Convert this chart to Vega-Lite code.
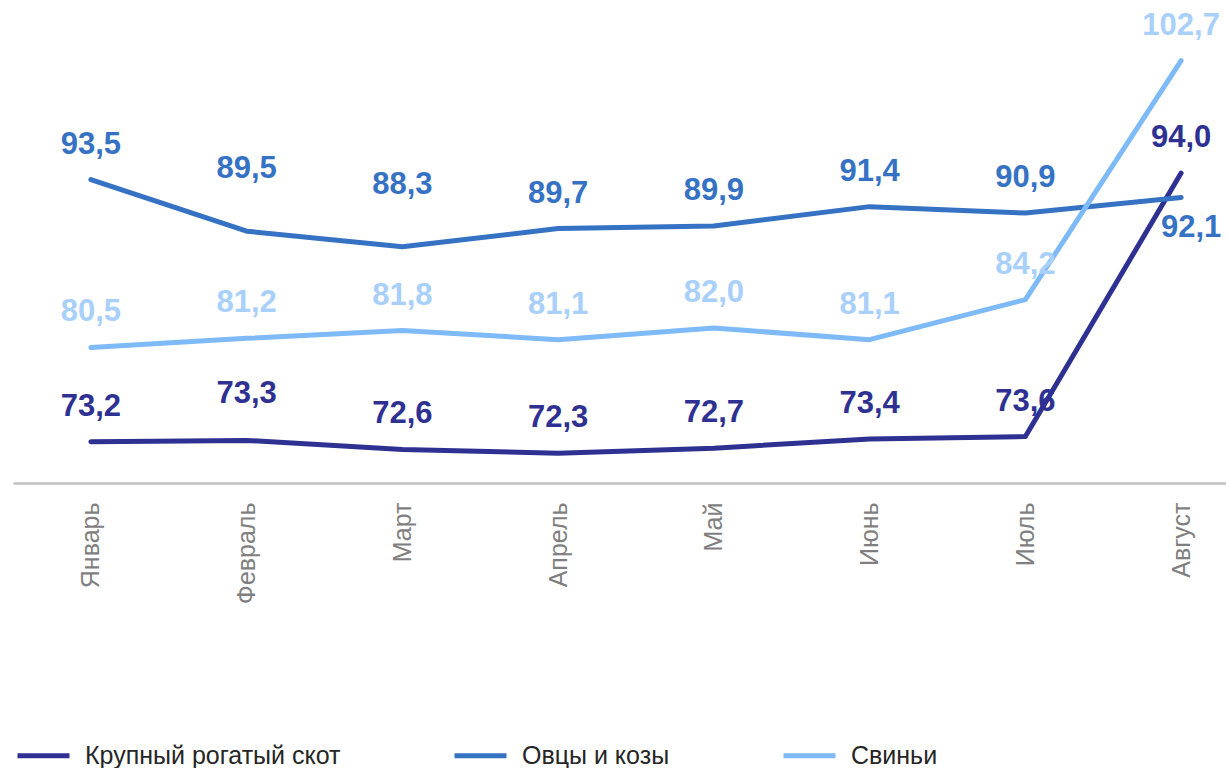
{
  "$schema": "https://vega.github.io/schema/vega-lite/v6.json",
  "autosize": {"type": "none"},
  "width": 1213,
  "height": 452,
  "padding": {"left": 13, "top": 31, "right": 0, "bottom": 285},
  "background": "white",
  "config": {
    "view": {"stroke": null},
    "font": "Liberation Sans",
    "locale": {"number": {"decimal": ",", "thousands": " ", "grouping": [3], "currency": ["", ""]}}
  },
  "data": {
    "values": [
      {"month": "Январь", "series": "Крупный рогатый скот", "value": 73.2},
      {"month": "Февраль", "series": "Крупный рогатый скот", "value": 73.3},
      {"month": "Март", "series": "Крупный рогатый скот", "value": 72.6},
      {"month": "Апрель", "series": "Крупный рогатый скот", "value": 72.3},
      {"month": "Май", "series": "Крупный рогатый скот", "value": 72.7},
      {"month": "Июнь", "series": "Крупный рогатый скот", "value": 73.4},
      {"month": "Июль", "series": "Крупный рогатый скот", "value": 73.6},
      {"month": "Август", "series": "Крупный рогатый скот", "value": 94.0},
      {"month": "Январь", "series": "Овцы и козы", "value": 93.5},
      {"month": "Февраль", "series": "Овцы и козы", "value": 89.5},
      {"month": "Март", "series": "Овцы и козы", "value": 88.3},
      {"month": "Апрель", "series": "Овцы и козы", "value": 89.7},
      {"month": "Май", "series": "Овцы и козы", "value": 89.9},
      {"month": "Июнь", "series": "Овцы и козы", "value": 91.4},
      {"month": "Июль", "series": "Овцы и козы", "value": 90.9},
      {"month": "Август", "series": "Овцы и козы", "value": 92.1},
      {"month": "Январь", "series": "Свиньи", "value": 80.5},
      {"month": "Февраль", "series": "Свиньи", "value": 81.2},
      {"month": "Март", "series": "Свиньи", "value": 81.8},
      {"month": "Апрель", "series": "Свиньи", "value": 81.1},
      {"month": "Май", "series": "Свиньи", "value": 82.0},
      {"month": "Июнь", "series": "Свиньи", "value": 81.1},
      {"month": "Июль", "series": "Свиньи", "value": 84.2},
      {"month": "Август", "series": "Свиньи", "value": 102.7}
    ]
  },
  "encoding": {
    "x": {
      "field": "month", "type": "ordinal",
      "sort": ["Январь", "Февраль", "Март", "Апрель", "Май", "Июнь", "Июль", "Август"],
      "scale": {"type": "point", "padding": 0.5, "range": [0, 1246]},
      "axis": {
        "title": null, "labelAngle": -90, "labelFontSize": 25, "labelColor": "#7F7F7F",
        "labelPadding": 19, "ticks": false, "domainColor": "#BFBFBF", "domainWidth": 2.5,
        "grid": false, "labelFont": "Liberation Sans"
      }
    },
    "y": {
      "field": "value", "type": "quantitative",
      "scale": {"domain": [70, 105], "zero": false, "nice": false},
      "axis": null
    }
  },
  "layer": [
    {
      "mark": {"type": "line", "strokeWidth": 5, "strokeCap": "round", "strokeJoin": "round"},
      "encoding": {
        "color": {
          "field": "series", "type": "nominal",
          "scale": {"domain": ["Крупный рогатый скот", "Овцы и козы", "Свиньи"], "range": ["#2E3192", "#3672C4", "#7DBAF7"]},
          "legend": {
            "title": null, "orient": "none", "legendX": 2, "legendY": 696, "direction": "horizontal",
            "symbolType": "stroke", "symbolSize": 2704, "symbolStrokeWidth": 5,
            "labelFontSize": 25, "labelColor": "#262626", "labelFont": "Liberation Sans",
            "labelOffset": 13, "columnPadding": 103, "labelLimit": 500
          }
        }
      }
    },
    {
      "transform": [{"filter": "!((datum.series === 'Овцы и козы' && (datum.month === 'Февраль' || datum.month === 'Март' || datum.month === 'Август')) || (datum.series === 'Крупный рогатый скот' && datum.month === 'Февраль'))"}],
      "mark": {"type": "text", "fontSize": 31, "fontWeight": "bold", "baseline": "middle", "dy": -35},
      "encoding": {
        "text": {"field": "value", "type": "quantitative", "format": ".1f"},
        "fill": {"field": "series", "type": "nominal", "scale": {"domain": ["Крупный рогатый скот", "Овцы и козы", "Свиньи"], "range": ["#2E3192", "#3672C4", "#A9D0FA"]}, "legend": null}
      }
    },
    {
      "transform": [{"filter": "datum.series === 'Овцы и козы' && (datum.month === 'Февраль' || datum.month === 'Март')"}],
      "mark": {"type": "text", "fontSize": 31, "fontWeight": "bold", "baseline": "middle", "dy": -62},
      "encoding": {
        "text": {"field": "value", "type": "quantitative", "format": ".1f"},
        "fill": {"field": "series", "type": "nominal", "legend": null}
      }
    },
    {
      "transform": [{"filter": "datum.series === 'Крупный рогатый скот' && datum.month === 'Февраль'"}],
      "mark": {"type": "text", "fontSize": 31, "fontWeight": "bold", "baseline": "middle", "dy": -46},
      "encoding": {
        "text": {"field": "value", "type": "quantitative", "format": ".1f"},
        "fill": {"field": "series", "type": "nominal", "legend": null}
      }
    },
    {
      "transform": [{"filter": "datum.series === 'Овцы и козы' && datum.month === 'Август'"}],
      "mark": {"type": "text", "fontSize": 31, "fontWeight": "bold", "baseline": "middle", "dy": 30, "dx": 10},
      "encoding": {
        "text": {"field": "value", "type": "quantitative", "format": ".1f"},
        "fill": {"field": "series", "type": "nominal", "legend": null}
      }
    }
  ]
}
